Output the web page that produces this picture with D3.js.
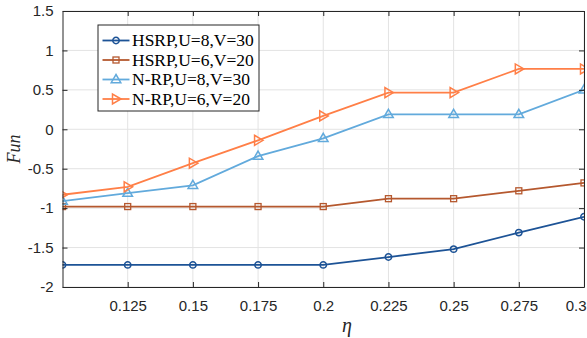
<!DOCTYPE html>
<html>
<head>
<meta charset="utf-8">
<script src="https://cdn.jsdelivr.net/npm/d3@7"></script>
<style>
  body { margin: 0; background: #fff; }
  svg { display: block; }
</style>
</head>
<body>
<script>
// eta values; first point sits left of the visible range (axis starts at 0.1)
const eta = [0.075, 0.1, 0.125, 0.15, 0.175, 0.2, 0.225, 0.25, 0.275, 0.3]

const hsrp8 = [-1.72, -1.72, -1.72, -1.72, -1.72, -1.72, -1.62, -1.52, -1.31, -1.11]
const hsrp6 = [-0.98, -0.98, -0.98, -0.98, -0.98, -0.98, -0.88, -0.88, -0.78, -0.68]
const nrp8 = [-1.01, -0.91, -0.81, -0.71, -0.34, -0.115, 0.19, 0.19, 0.19, 0.50]
const nrp6 = [-0.93, -0.83, -0.73, -0.43, -0.14, 0.17, 0.465, 0.465, 0.765, 0.765]

const labels = ['HSRP,U=8,V=30', 'HSRP,U=6,V=20', 'N-RP,U=8,V=30', 'N-RP,U=6,V=20']
const colors = ['#1d5396', '#b5582e', '#62aadc', '#ff7f47']
const symbols = ['circle', 'square', 'triangle', 'right']

const xTicks = [0.125, 0.15, 0.175, 0.2, 0.225, 0.25, 0.275, 0.3]
const yTicks = [-2, -1.5, -1, -0.5, 0, 0.5, 1, 1.5]

const series = [hsrp8, hsrp6, nrp8, nrp6].map((vals, i) => ({
  label: labels[i],
  color: colors[i],
  symbol: symbols[i],
  points: vals.map((v, j) => [eta[j], v])
}))

const width = 587
const height = 338
const margin = { top: 11, right: 3, bottom: 51, left: 62.5 }

const svg = d3.select('body').append('svg')
  .attr('width', width)
  .attr('height', height)
  .attr('viewBox', [0, 0, width, height])

const x = d3.scaleLinear().domain([0.1, 0.3]).range([margin.left, width - margin.right])
const y = d3.scaleLinear().domain([-2, 1.5]).range([height - margin.bottom, margin.top])

const fmt = (d) => String(d)

// grid
svg.append('g')
  .selectAll('line')
  .data(xTicks)
  .join('line')
    .attr('x1', d => x(d)).attr('x2', d => x(d))
    .attr('y1', y(-2)).attr('y2', y(1.5))
    .attr('stroke', '#e3e3e3')

svg.append('g')
  .selectAll('line')
  .data(yTicks)
  .join('line')
    .attr('y1', d => y(d)).attr('y2', d => y(d))
    .attr('x1', x(0.1)).attr('x2', x(0.3))
    .attr('stroke', '#e3e3e3')

svg.append('clipPath').attr('id', 'plot')
  .append('rect')
    .attr('x', x(0.1)).attr('y', y(1.5))
    .attr('width', x(0.3) - x(0.1))
    .attr('height', y(-2) - y(1.5))

const line = d3.line().x(d => x(d[0])).y(d => y(d[1]))

const marker = (sel, symbol, color) => {
  if (symbol === 'circle') {
    sel.append('circle').attr('r', 3.2)
      .attr('fill', 'none').attr('stroke', color).attr('stroke-width', 1.5)
  } else if (symbol === 'square') {
    sel.append('rect').attr('x', -3).attr('y', -3).attr('width', 6).attr('height', 6)
      .attr('fill', 'none').attr('stroke', color).attr('stroke-width', 1.3)
  } else if (symbol === 'triangle') {
    sel.append('path').attr('d', 'M0,-5L4.8,3.2L-4.8,3.2Z')
      .attr('fill', 'none').attr('stroke', color).attr('stroke-width', 1.5)
  } else {
    sel.append('path').attr('d', 'M5,0L-3.5,-5L-3.5,5Z')
      .attr('fill', 'none').attr('stroke', color).attr('stroke-width', 1.5)
  }
}

const plot = svg.append('g').attr('clip-path', 'url(#plot)')

series.forEach(s => {
  plot.append('path')
    .attr('d', line(s.points))
    .attr('fill', 'none')
    .attr('stroke', s.color)
    .attr('stroke-width', 1.8)
  s.points.forEach(p => {
    const g = plot.append('g').attr('transform', `translate(${x(p[0])},${y(p[1])})`)
    marker(g, s.symbol, s.color)
  })
})

// axes box with inward ticks
const axisColor = '#262626'
const tick = 5

const axBottom = svg.append('g')
  .attr('transform', `translate(0,${y(-2)})`)
  .call(d3.axisBottom(x).tickValues(xTicks).tickFormat(fmt).tickSizeInner(-tick).tickSizeOuter(0).tickPadding(13))
const axTop = svg.append('g')
  .attr('transform', `translate(0,${y(1.5)})`)
  .call(d3.axisTop(x).tickValues(xTicks).tickFormat('').tickSizeInner(-tick).tickSizeOuter(0))
const axLeft = svg.append('g')
  .attr('transform', `translate(${x(0.1)},0)`)
  .call(d3.axisLeft(y).tickValues(yTicks).tickFormat(fmt).tickSizeInner(-tick).tickSizeOuter(0).tickPadding(9))
const axRight = svg.append('g')
  .attr('transform', `translate(${x(0.3)},0)`)
  .call(d3.axisRight(y).tickValues(yTicks).tickFormat('').tickSizeInner(-tick).tickSizeOuter(0))

;[axBottom, axTop, axLeft, axRight].forEach(a => {
  a.select('.domain').attr('stroke', axisColor).attr('stroke-width', 1)
  a.selectAll('.tick line').attr('stroke', axisColor)
  a.selectAll('.tick text')
    .attr('fill', '#262626')
    .style('font-family', '"Liberation Sans", Arial, sans-serif')
    .style('font-size', '15px')
})

// keep the last x label inside the window
axBottom.selectAll('.tick text')
  .filter(d => d === 0.3)
  .attr('text-anchor', 'end')
  .attr('dx', 2)

// axis titles
svg.append('text')
  .attr('x', 347)
  .attr('y', 332)
  .attr('text-anchor', 'middle')
  .style('font-family', '"Liberation Serif", "Times New Roman", serif')
  .style('font-style', 'italic')
  .style('font-size', '20px')
  .attr('fill', '#262626')
  .text('η')

svg.append('text')
  .attr('transform', `translate(20,${(y(-2) + y(1.5)) / 2}) rotate(-90)`)
  .attr('text-anchor', 'middle')
  .style('font-family', '"Liberation Serif", "Times New Roman", serif')
  .style('font-style', 'italic')
  .style('font-size', '18px')
  .attr('fill', '#262626')
  .text('Fun')

// legend
const legend = svg.append('g').attr('transform', 'translate(98,25)')
legend.append('rect')
  .attr('width', 161)
  .attr('height', 86)
  .attr('fill', '#fff')
  .attr('stroke', '#262626')
  .attr('stroke-width', 1)

series.forEach((s, i) => {
  const row = legend.append('g').attr('transform', `translate(0,${15.5 + i * 19.5})`)
  row.append('line')
    .attr('x1', 4.5).attr('x2', 31.5)
    .attr('stroke', s.color).attr('stroke-width', 1.8)
  const m = row.append('g').attr('transform', 'translate(18,0)')
  marker(m, s.symbol, s.color)
  row.append('text')
    .attr('x', 34)
    .attr('y', 5.5)
    .style('font-family', '"Liberation Serif", "Times New Roman", serif')
    .style('font-size', '17.5px')
    .attr('fill', '#000')
    .text(s.label)
})
</script>
</body>
</html>
